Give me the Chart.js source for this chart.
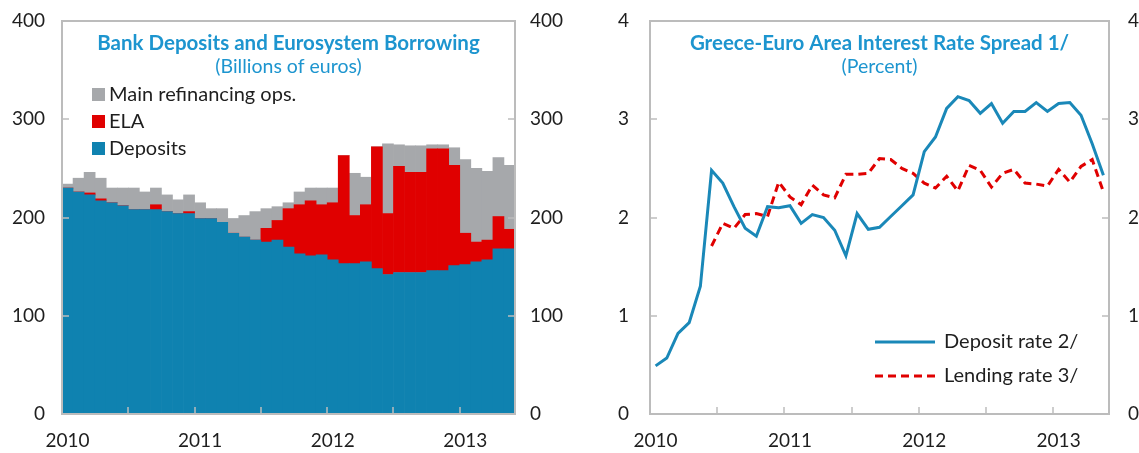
<!DOCTYPE html>
<html>
<head>
<meta charset="utf-8">
<script src="https://cdn.jsdelivr.net/npm/chart.js@4/dist/chart.umd.min.js"></script>
<style>
  html, body { margin: 0; padding: 0; background: #fff; }
  #wrap { position: relative; width: 1139px; height: 453px; overflow: hidden; }
  #left { position: absolute; left: 0; top: 0; }
  #right { position: absolute; left: 580px; top: 0; }
</style>
</head>
<body>
<div id="wrap">
  <canvas id="left" width="580" height="453"></canvas>
  <canvas id="right" width="559" height="453"></canvas>
</div>
<script>
// months, Jan 2010 .. May 2013
const months = [
  'Jan 2010','Feb 2010','Mar 2010','Apr 2010','May 2010','Jun 2010','Jul 2010','Aug 2010','Sep 2010','Oct 2010','Nov 2010','Dec 2010',
  'Jan 2011','Feb 2011','Mar 2011','Apr 2011','May 2011','Jun 2011','Jul 2011','Aug 2011','Sep 2011','Oct 2011','Nov 2011','Dec 2011',
  'Jan 2012','Feb 2012','Mar 2012','Apr 2012','May 2012','Jun 2012','Jul 2012','Aug 2012','Sep 2012','Oct 2012','Nov 2012','Dec 2012',
  'Jan 2013','Feb 2013','Mar 2013','Apr 2013','May 2013'
];

// left panel, billions of euros
const deposits = [230,226,223,217,215,212,208,208,208,206,204,204,199,199,195,184,180,177,175,177,170,163,161,162,
                  157,153,153,155,148,142,144,144,144,146,146,151,152,155,157,168,168];
const ela      = [0,0,2,2,0,0,0,0,5,0,0,2,0,0,0,0,0,0,14,20,39,50,56,51,
                  58,110,49,58,124,62,108,102,102,124,124,102,32,20,20,33,20];
const mro      = [4,14,21,21,15,18,22,18,17,17,14,17,16,10,14,15,22,29,20,14,6,13,13,17,
                  15,0,43,28,0,71,22,27,27,4,4,18,75,75,70,60,65];

// right panel, percent
const depositRate = [0.49,0.57,0.82,0.93,1.30,2.48,2.35,2.11,1.89,1.81,2.11,2.10,2.12,1.94,2.03,2.00,1.87,1.61,2.04,1.88,
                     1.90,2.01,2.12,2.23,2.67,2.82,3.11,3.23,3.19,3.06,3.16,2.96,3.08,3.08,3.17,3.08,3.16,3.17,3.04,2.75,2.43];
const lendingRate = [null,null,null,null,null,1.71,1.94,1.89,2.03,2.04,2.01,2.36,2.21,2.13,2.33,2.23,2.20,2.44,2.44,2.45,
                     2.60,2.59,2.50,2.45,2.35,2.30,2.42,2.27,2.53,2.48,2.31,2.45,2.49,2.35,2.34,2.32,2.49,2.36,2.52,2.59,2.26];

const FONT = 'Lato, "Open Sans", sans-serif';
const BLUE = '#0f82b0';
const RED = '#e00000';
const GREY = '#a6a8ab';
const LINEBLUE = '#1a88b8';
const TITLEBLUE = '#1d95cf';
const FRAME = '#bcbcbc';
const TEXT = '#1e1e1e';

Chart.defaults.font.family = FONT;
Chart.defaults.color = TEXT;

function yearLabel(i) {
  return i % 12 === 0 ? months[i].split(' ')[1] : '';
}

// frame, inward ticks, titles and legend drawn inside the plot box
const panelPlugin = {
  id: 'panel',
  afterDraw(chart, args, o) {
    const ctx = chart.ctx, a = chart.chartArea;
    const x = chart.scales.x, y = chart.scales.y;
    ctx.save();
    ctx.strokeStyle = FRAME;
    ctx.lineWidth = 1.5;
    for (let i = 6; i < months.length; i += 6) {
      const px = Math.round(x.getPixelForValue(i - 0.5));
      ctx.beginPath(); ctx.moveTo(px, a.bottom); ctx.lineTo(px, a.bottom - 7); ctx.stroke();
    }
    y.ticks.forEach(t => {
      if (t.value <= y.min || t.value >= y.max) return;
      const py = Math.round(y.getPixelForValue(t.value));
      ctx.beginPath(); ctx.moveTo(a.left, py); ctx.lineTo(a.left + 7, py); ctx.stroke();
      ctx.beginPath(); ctx.moveTo(a.right, py); ctx.lineTo(a.right - 7, py); ctx.stroke();
    });
    ctx.lineWidth = 2;
    ctx.strokeRect(a.left, a.top, a.right - a.left, a.bottom - a.top);

    const cx = (a.left + a.right) / 2;
    ctx.fillStyle = TITLEBLUE;
    ctx.textAlign = 'center';
    ctx.textBaseline = 'middle';
    ctx.font = 'bold 20.5px ' + FONT;
    ctx.fillText(o.title, cx, a.top + 22);
    ctx.font = '19.5px ' + FONT;
    ctx.fillText(o.subtitle, cx, a.top + 46);

    ctx.textAlign = 'left';
    ctx.fillStyle = TEXT;
    ctx.font = '20px ' + FONT;
    (o.legend || []).forEach(item => {
      const lx = a.left + item.x, ly = a.top + item.y;
      if (item.type === 'box') {
        ctx.fillStyle = item.color;
        ctx.fillRect(lx, ly - 7, 13, 13);
        ctx.fillStyle = TEXT;
        ctx.fillText(item.text, lx + 17, ly);
      } else {
        ctx.strokeStyle = item.color;
        ctx.lineWidth = 3;
        ctx.setLineDash(item.dash || []);
        ctx.beginPath(); ctx.moveTo(lx, ly); ctx.lineTo(lx + 60, ly); ctx.stroke();
        ctx.setLineDash([]);
        ctx.fillText(item.text, lx + 69, ly);
      }
    });
    ctx.restore();
  }
};

// fixed axis sizes; drop the label overhang so the plot box spans the full height
function fixWidth(w) { return s => { s.width = w; s.paddingTop = 0; s.paddingBottom = 0; }; }
function fixHeight(h) { return s => { s.height = h; s.paddingLeft = 0; s.paddingRight = 0; }; }

function yScale(pos, min, max, step, width, pad) {
  return {
    type: 'linear', position: pos, min: min, max: max,
    grid: { display: false, drawTicks: false },
    border: { display: false },
    ticks: { stepSize: step, padding: pad, font: { size: 19 }, color: TEXT },
    afterFit: fixWidth(width)
  };
}

const xScale = {
  type: 'category', offset: true,
  grid: { display: false, drawTicks: false, offset: true },
  border: { display: false },
  ticks: {
    autoSkip: false, maxRotation: 0, minRotation: 0, padding: 15,
    font: { size: 19 }, color: TEXT,
    callback: (v, i) => yearLabel(i)
  },
  afterFit: fixHeight(39)
};

new Chart(document.getElementById('left'), {
  type: 'bar',
  data: {
    labels: months,
    datasets: [
      { label: 'Deposits', data: deposits, backgroundColor: BLUE, stack: 's' },
      { label: 'ELA', data: ela, backgroundColor: RED, stack: 's' },
      { label: 'Main refinancing ops.', data: mro, backgroundColor: GREY, stack: 's' }
    ]
  },
  options: {
    responsive: false, animation: false, devicePixelRatio: 1,
    layout: { padding: { top: 21, left: 0, right: 0, bottom: 0 } },
    datasets: { bar: { barPercentage: 1, categoryPercentage: 1, borderWidth: 0 } },
    scales: {
      x: Object.assign({}, xScale, { stacked: true }),
      y: Object.assign(yScale('left', 0, 400, 100, 62, 17), { stacked: true }),
      y2: yScale('right', 0, 400, 100, 65, 15)
    },
    plugins: {
      legend: { display: false }, tooltip: { enabled: false },
      panel: {
        title: 'Bank Deposits and Eurosystem Borrowing',
        subtitle: '(Billions of euros)',
        legend: [
          { type: 'box', text: 'Main refinancing ops.', color: GREY, x: 30, y: 74 },
          { type: 'box', text: 'ELA', color: RED, x: 30, y: 101 },
          { type: 'box', text: 'Deposits', color: BLUE, x: 30, y: 128 }
        ]
      }
    }
  },
  plugins: [panelPlugin]
});

new Chart(document.getElementById('right'), {
  type: 'line',
  data: {
    labels: months,
    datasets: [
      { label: 'Deposit rate 2/', data: depositRate, borderColor: LINEBLUE, borderWidth: 3, pointRadius: 0, tension: 0, fill: false },
      { label: 'Lending rate 3/', data: lendingRate, borderColor: RED, borderWidth: 3, borderDash: [8, 5], pointRadius: 0, tension: 0, fill: false }
    ]
  },
  options: {
    responsive: false, animation: false, devicePixelRatio: 1,
    layout: { padding: { top: 21, left: 0, right: 0, bottom: 0 } },
    scales: {
      x: xScale,
      y: yScale('left', 0, 4, 1, 70, 21),
      y2: yScale('right', 0, 4, 1, 30, 19)
    },
    plugins: {
      legend: { display: false }, tooltip: { enabled: false },
      panel: {
        title: 'Greece-Euro Area Interest Rate Spread 1/',
        subtitle: '(Percent)',
        legend: [
          { type: 'line', text: 'Deposit rate 2/', color: LINEBLUE, x: 225, y: 321 },
          { type: 'line', text: 'Lending rate 3/', color: RED, dash: [8, 5], x: 225, y: 355 }
        ]
      }
    }
  },
  plugins: [panelPlugin]
});
</script>
</body>
</html>
